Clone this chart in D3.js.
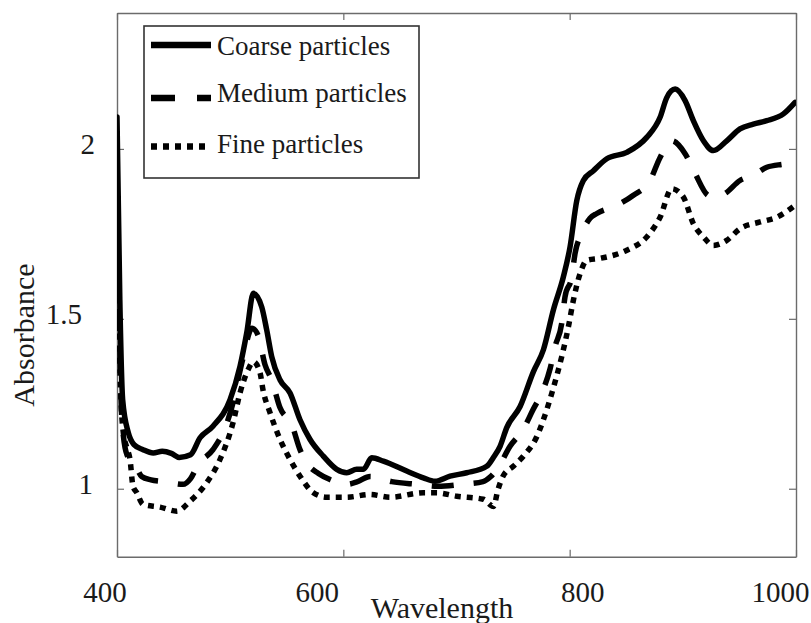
<!DOCTYPE html>
<html>
<head>
<meta charset="utf-8">
<script src="https://cdn.jsdelivr.net/npm/d3@7/dist/d3.min.js"></script>
<style>
  html, body { margin: 0; padding: 0; background: #fff; }
  svg { display: block; }
  text { font-family: "Liberation Serif", "Times New Roman", serif; fill: #1a1a1a; }
</style>
</head>
<body>
<svg id="chart" width="811" height="623"></svg>
<script>
// ---------------- data ----------------
const seriesNames = ["Coarse particles", "Medium particles", "Fine particles"];

const wlCoarse = [400, 402.5, 405, 410, 415, 423, 432, 440, 448, 455, 465, 473.4, 484.8, 499.9, 508.7, 514.6, 520.5, 527.9, 532.3, 536.7, 544.1, 552.9, 561.7, 570.6, 582.3, 594.2, 603, 611.8, 617.7, 625.1, 635.4, 656, 670.7, 681, 694.3, 709, 726.7, 732.6, 738.5, 744.4, 756.2, 767.9, 776.8, 785.6, 794.4, 800.3, 806.3, 812.1, 821, 832.8, 850.5, 868.1, 879.9, 885.8, 893.2, 902, 909.3, 918.2, 927, 938.8, 950.5, 962.3, 974.2, 988.9, 999.2];
const absCoarse = [2.094, 1.555, 1.262, 1.165, 1.13, 1.115, 1.105, 1.11, 1.104, 1.092, 1.10, 1.15, 1.184, 1.262, 1.36, 1.458, 1.575, 1.535, 1.467, 1.389, 1.32, 1.282, 1.203, 1.145, 1.096, 1.057, 1.047, 1.057, 1.057, 1.091, 1.081, 1.052, 1.032, 1.022, 1.037, 1.047, 1.066, 1.092, 1.125, 1.18, 1.242, 1.344, 1.409, 1.526, 1.623, 1.711, 1.848, 1.907, 1.936, 1.971, 1.99, 2.034, 2.093, 2.151, 2.176, 2.142, 2.083, 2.024, 1.995, 2.024, 2.059, 2.073, 2.083, 2.103, 2.137];

const wlMedium = [400, 404.4, 408.8, 415.9, 421.8, 430, 440.7, 450, 458.3, 465, 471.6, 484.8, 497.2, 502.5, 506.9, 511.4, 519.3, 524.6, 530.8, 536.7, 544.1, 554.4, 561.7, 568.8, 578, 588.2, 603, 612, 623.6, 642.8, 664.9, 683.7, 704.6, 723.5, 730, 736.7, 747.3, 758.8, 767.7, 776.5, 782.7, 787.1, 793, 795.9, 801.8, 804.8, 810.7, 818, 824, 841.6, 856, 871, 879.9, 890.2, 902, 910.8, 922.3, 928.5, 937.4, 950.5, 962.1, 974.2, 990.3, 1000];
const absMedium = [1.90, 1.203, 1.10, 1.071, 1.036, 1.026, 1.021, 1.016, 1.013, 1.03, 1.071, 1.115, 1.194, 1.253, 1.32, 1.385, 1.472, 1.452, 1.365, 1.32, 1.238, 1.189, 1.115, 1.071, 1.045, 1.027, 1.013, 1.02, 1.036, 1.021, 1.013, 1.007, 1.013, 1.021, 1.035, 1.062, 1.125, 1.174, 1.233, 1.291, 1.353, 1.418, 1.487, 1.565, 1.623, 1.693, 1.752, 1.796, 1.81, 1.834, 1.863, 1.907, 1.975, 2.024, 1.986, 1.928, 1.863, 1.857, 1.869, 1.907, 1.922, 1.946, 1.956, 1.963];

const wlFine = [400, 403.5, 405.6, 408.8, 411.5, 414.1, 417.4, 423, 438, 452.8, 464.5, 479.3, 491, 502.5, 508.7, 515.8, 520.5, 526.4, 529, 535.2, 544.1, 552.9, 561.7, 573.2, 585.3, 603, 623.6, 641.3, 670.7, 682.5, 700.2, 723.7, 732.6, 736.7, 741.1, 750.2, 759.1, 770.9, 779.8, 785.6, 793, 798.9, 803.3, 809.2, 815.1, 826.9, 850.5, 868.1, 879.9, 890.2, 900.5, 909.3, 918.2, 927, 938.8, 950.5, 968.3, 983.1, 999.2];
const absFine = [1.775, 1.262, 1.165, 1.12, 1.086, 1.008, 0.989, 0.954, 0.946, 0.934, 0.963, 1.018, 1.086, 1.194, 1.282, 1.35, 1.374, 1.341, 1.291, 1.224, 1.145, 1.086, 1.037, 0.989, 0.975, 0.975, 0.983, 0.975, 0.988, 0.988, 0.978, 0.969, 0.948, 0.998, 1.037, 1.066, 1.096, 1.153, 1.233, 1.297, 1.389, 1.477, 1.555, 1.633, 1.672, 1.678, 1.702, 1.741, 1.799, 1.883, 1.858, 1.78, 1.741, 1.716, 1.731, 1.765, 1.785, 1.799, 1.834];

const xTickValues = [400, 600, 800, 1000];
const xTickLabels = ["400", "600", "800", "1000"];
const yTickValues = [1, 1.5, 2];
const yTickLabels = ["1", "1.5", "2"];
const xTitle = "Wavelength";
const yTitle = "Absorbance";

// ---------------- layout / style ----------------
const L = 117, R = 796, T = 13, B = 556.7;
const xLabelShift = [-12, -26, 13, -15.5];   // visual placement of x tick labels
const yLabelRight = [93, 82, 95];            // right edge of y tick labels
const styles = [
  { dash: null,    width: 5.5 },
  { dash: "22,20", width: 5.5 },
  { dash: "6,6",   width: 5.5 }
];
const legendDash = [null, "24,22", "6,6"];

const svg = d3.select("#chart");
svg.append("rect").attr("width", 811).attr("height", 623).attr("fill", "#fff");

const x = d3.scaleLinear().domain([400, 1000]).range([L, R]);
const y = d3.scaleLinear().domain([0.8, 2.4]).range([B, T]);

svg.append("defs").append("clipPath").attr("id", "clip")
  .append("rect").attr("x", L).attr("y", T).attr("width", R - L).attr("height", B - T);

// axes (ticks inward on all four sides)
const axisColor = "#6b6b6b";
function styleAxis(g) {
  g.selectAll("path").attr("stroke", axisColor).attr("stroke-width", 1.4);
  g.selectAll("line").attr("stroke", axisColor).attr("stroke-width", 1.2);
  g.selectAll("text").remove();
}
svg.append("g").attr("transform", `translate(0,${B})`)
  .call(d3.axisBottom(x).tickValues(xTickValues).tickSizeInner(-7).tickSizeOuter(0)).call(styleAxis);
svg.append("g").attr("transform", `translate(0,${T})`)
  .call(d3.axisTop(x).tickValues(xTickValues).tickSizeInner(-7).tickSizeOuter(0)).call(styleAxis);
svg.append("g").attr("transform", `translate(${L},0)`)
  .call(d3.axisLeft(y).tickValues(yTickValues).tickSizeInner(-7).tickSizeOuter(0)).call(styleAxis);
svg.append("g").attr("transform", `translate(${R},0)`)
  .call(d3.axisRight(y).tickValues(yTickValues).tickSizeInner(-7).tickSizeOuter(0)).call(styleAxis);

// tick labels
xTickValues.forEach((v, i) => {
  svg.append("text").attr("x", x(v) + xLabelShift[i]).attr("y", 601.5)
    .attr("text-anchor", "middle").attr("font-size", 29).text(xTickLabels[i]);
});
yTickValues.forEach((v, i) => {
  svg.append("text").attr("x", yLabelRight[i]).attr("y", y(v) + 4.8)
    .attr("text-anchor", "end").attr("font-size", 29).text(yTickLabels[i]);
});

// axis titles
svg.append("text").attr("x", 442).attr("y", 618).attr("text-anchor", "middle")
  .attr("font-size", 30).text(xTitle);
svg.append("text").attr("transform", "translate(34,335) rotate(-90)")
  .attr("text-anchor", "middle").attr("font-size", 30).text(yTitle);

// lines
const series = [
  { wl: wlCoarse, ab: absCoarse },
  { wl: wlMedium, ab: absMedium },
  { wl: wlFine,   ab: absFine }
];
const line = d3.line().x(d => x(d[0])).y(d => y(d[1])).curve(d3.curveMonotoneX);
const plot = svg.append("g").attr("clip-path", "url(#clip)");
series.forEach((s, i) => {
  const pts = s.wl.map((w, k) => [w, s.ab[k]]);
  const p = plot.append("path").datum(pts).attr("d", line)
    .attr("fill", "none").attr("stroke", "#000")
    .attr("stroke-width", styles[i].width)
    .attr("stroke-linejoin", "round");
  if (styles[i].dash) p.attr("stroke-dasharray", styles[i].dash).attr("stroke-linecap", "butt");
  else p.attr("stroke-linecap", "round");
});

// legend
const lg = svg.append("g");
lg.append("rect").attr("x", 144).attr("y", 26).attr("width", 275).attr("height", 152)
  .attr("fill", "#fff").attr("stroke", "#333").attr("stroke-width", 1.6);
const legY = [45, 98, 146.5];
const legBase = [54.5, 101.5, 153];
seriesNames.forEach((name, i) => {
  const ln = lg.append("line").attr("x1", 151).attr("x2", 211).attr("y1", legY[i]).attr("y2", legY[i])
    .attr("stroke", "#000").attr("stroke-width", 6.5);
  if (legendDash[i]) ln.attr("stroke-dasharray", legendDash[i]);
  lg.append("text").attr("x", 217).attr("y", legBase[i]).attr("font-size", 27).text(name);
});
</script>
</body>
</html>
